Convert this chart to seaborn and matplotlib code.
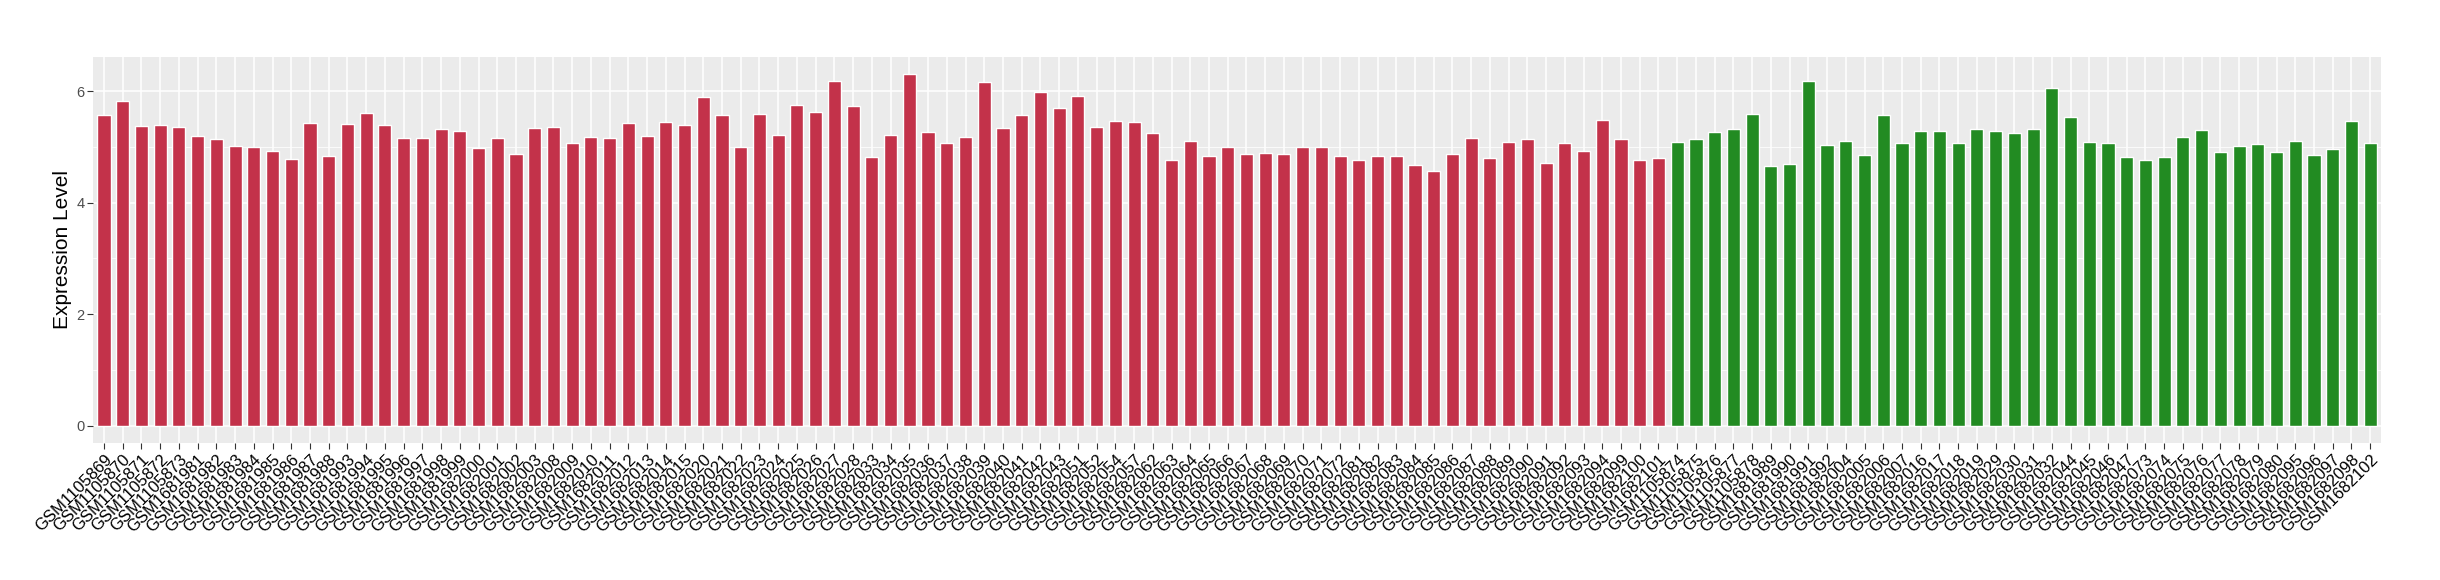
import pandas as pd
import seaborn as sns
import matplotlib.pyplot as plt
from matplotlib.ticker import MultipleLocator

# 첫 번째 그룹 (빨강) 샘플과 발현값
red_samples = ['GSM1105869', 'GSM1105870', 'GSM1105871', 'GSM1105872', 'GSM1105873',
               'GSM1681981', 'GSM1681982', 'GSM1681983', 'GSM1681984', 'GSM1681985',
               'GSM1681986', 'GSM1681987', 'GSM1681988', 'GSM1681993', 'GSM1681994',
               'GSM1681995', 'GSM1681996', 'GSM1681997', 'GSM1681998', 'GSM1681999',
               'GSM1682000', 'GSM1682001', 'GSM1682002', 'GSM1682003', 'GSM1682008',
               'GSM1682009', 'GSM1682010', 'GSM1682011', 'GSM1682012', 'GSM1682013',
               'GSM1682014', 'GSM1682015', 'GSM1682020', 'GSM1682021', 'GSM1682022',
               'GSM1682023', 'GSM1682024', 'GSM1682025', 'GSM1682026', 'GSM1682027',
               'GSM1682028', 'GSM1682033', 'GSM1682034', 'GSM1682035', 'GSM1682036',
               'GSM1682037', 'GSM1682038', 'GSM1682039', 'GSM1682040', 'GSM1682041',
               'GSM1682042', 'GSM1682043', 'GSM1682051', 'GSM1682052', 'GSM1682054',
               'GSM1682057', 'GSM1682062', 'GSM1682063', 'GSM1682064', 'GSM1682065',
               'GSM1682066', 'GSM1682067', 'GSM1682068', 'GSM1682069', 'GSM1682070',
               'GSM1682071', 'GSM1682072', 'GSM1682081', 'GSM1682082', 'GSM1682083',
               'GSM1682084', 'GSM1682085', 'GSM1682086', 'GSM1682087', 'GSM1682088',
               'GSM1682089', 'GSM1682090', 'GSM1682091', 'GSM1682092', 'GSM1682093',
               'GSM1682094', 'GSM1682099', 'GSM1682100', 'GSM1682101']
red_values = [5.57, 5.82, 5.37, 5.39, 5.36, 5.20, 5.14, 5.02, 5.00, 4.93,
              4.79, 5.43, 4.84, 5.41, 5.60, 5.39, 5.16, 5.16, 5.32, 5.28,
              4.98, 5.16, 4.88, 5.34, 5.36, 5.07, 5.18, 5.16, 5.43, 5.20,
              5.44, 5.39, 5.89, 5.57, 5.00, 5.59, 5.21, 5.75, 5.62, 6.19,
              5.73, 4.82, 5.21, 6.30, 5.27, 5.07, 5.18, 6.17, 5.34, 5.57,
              5.98, 5.69, 5.92, 5.36, 5.46, 5.44, 5.25, 4.77, 5.11, 4.84,
              5.00, 4.88, 4.89, 4.88, 5.00, 5.00, 4.84, 4.77, 4.84, 4.84,
              4.68, 4.56, 4.88, 5.16, 4.80, 5.09, 5.14, 4.72, 5.07, 4.93,
              5.48, 5.14, 4.77, 4.80]

# 두 번째 그룹 (초록) 샘플과 발현값
green_samples = ['GSM1105874', 'GSM1105875', 'GSM1105876', 'GSM1105877', 'GSM1105878',
                 'GSM1681989', 'GSM1681990', 'GSM1681991', 'GSM1681992', 'GSM1682004',
                 'GSM1682005', 'GSM1682006', 'GSM1682007', 'GSM1682016', 'GSM1682017',
                 'GSM1682018', 'GSM1682019', 'GSM1682029', 'GSM1682030', 'GSM1682031',
                 'GSM1682032', 'GSM1682044', 'GSM1682045', 'GSM1682046', 'GSM1682047',
                 'GSM1682073', 'GSM1682074', 'GSM1682075', 'GSM1682076', 'GSM1682077',
                 'GSM1682078', 'GSM1682079', 'GSM1682080', 'GSM1682095', 'GSM1682096',
                 'GSM1682097', 'GSM1682098', 'GSM1682102']
green_values = [5.09, 5.14, 5.27, 5.32, 5.59, 4.66, 4.70, 6.19, 5.04, 5.11,
                4.86, 5.57, 5.07, 5.28, 5.28, 5.07, 5.32, 5.28, 5.25, 5.32,
                6.05, 5.53, 5.09, 5.07, 4.82, 4.77, 4.82, 5.18, 5.30, 4.91,
                5.02, 5.05, 4.91, 5.11, 4.86, 4.96, 5.46, 5.07]

df = pd.DataFrame({
    'sample': red_samples + green_samples,
    'value': red_values + green_values,
    'group': ['A'] * len(red_samples) + ['B'] * len(green_samples),
})

# ggplot 느낌의 회색 배경 테마
sns.set_theme(style='darkgrid', rc={
    'axes.facecolor': '#EBEBEB',
    'grid.color': 'white',
    'axes.edgecolor': 'none',
})
plt.rcParams['font.family'] = ['Liberation Sans', 'DejaVu Sans']

fig, ax = plt.subplots(figsize=(24.4, 5.8), dpi=100)
fig.subplots_adjust(left=0.038, right=0.976, top=0.902, bottom=0.236)

sns.barplot(data=df, x='sample', y='value', hue='group',
            palette={'A': '#C3324A', 'B': '#228B22'}, saturation=1,
            width=0.7, dodge=False, legend=False, ax=ax)

ax.set_xlim(-0.6, len(df) - 0.4)
ax.set_ylim(-0.31, 6.615)
ax.yaxis.set_major_locator(MultipleLocator(2))
ax.yaxis.set_minor_locator(MultipleLocator(1))
ax.grid(which='major', color='white', linewidth=1.1)
ax.grid(which='minor', axis='y', color='white', linewidth=0.55)
ax.set_axisbelow(True)

ax.set_xlabel('')
ax.set_ylabel('Expression Level', fontsize=15, color='black', labelpad=3)
ax.tick_params(axis='both', which='major', length=4, width=0.8, color='#333333',
               bottom=True, left=True)
ax.tick_params(axis='y', which='minor', length=0)
ax.tick_params(axis='y', labelsize=10.5, labelcolor='#4D4D4D', pad=2)
ax.tick_params(axis='x', labelsize=12, labelcolor='black', pad=2)
plt.setp(ax.get_xticklabels(), rotation=45, ha='right', va='top', rotation_mode='anchor')

for s in ax.spines.values():
    s.set_visible(False)

fig.savefig('out.png', dpi=100)
